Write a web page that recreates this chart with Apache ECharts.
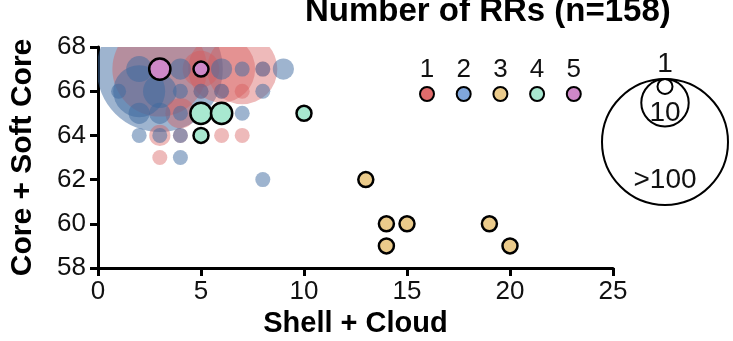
<!DOCTYPE html>
<html>
<head>
<meta charset="utf-8">
<script src="https://cdn.jsdelivr.net/npm/echarts@6/dist/echarts.min.js"></script>
<style>
  html, body { margin: 0; padding: 0; background: #fff; }
  #chart { width: 733px; height: 341px; }
</style>
</head>
<body>
<div id="chart"></div>
<script>
// Repeat-region counts per (Shell + Cloud, Core + Soft Core) cell: [x, y, count]
const clusterNames = ['1', '2', '3', '4', '5'];
const cluster1 = [[3,67,40],[6,67,20],[7,67,22],[5,67,6],[8,67,1],[5,66,1],[6,66,1],[7,66,1],[4,65,4],[3,64,2],[4,64,1],[6,64,1],[7,64,1],[3,63,1]];
const cluster2 = [[3,67,110],[2,66,12],[3,66,5],[2,67,3],[4,67,2],[6,67,2],[7,67,1],[8,67,1],[9,67,2],[1,66,1],[4,66,1],[5,66,1],[6,66,1],[8,66,1],[2,65,2],[3,65,2],[4,65,1],[7,65,1],[2,64,1],[3,64,1],[4,64,1],[4,63,1],[8,62,1]];
const cluster3 = [[13,62,1],[14,60,1],[15,60,1],[14,59,1],[19,60,1],[20,59,1]];
const cluster4 = [[5,65,2],[6,65,2],[5,64,1],[10,65,1]];
const cluster5 = [[3,67,2],[5,67,1]];
const sizeLegendValues = [1, 10, 100];
const sizeLegendLabels = ['1', '10', '>100'];
const xTicks = [0, 5, 10, 15, 20, 25];
const yTicks = [58, 60, 62, 64, 66, 68];

const SANS = '"Liberation Sans", Arial, Helvetica, sans-serif';
const solidColors = ['#E06C6C', '#7FA6DC', '#EBCB8B', '#A8E8D0', '#CE88C8'];
const plotFills = [
  'rgba(214, 90, 90, 0.42)',
  'rgba(62, 106, 160, 0.50)',
  '#EBCB8B', '#A8E8D0', '#CE88C8'
];
const outlined = [false, false, true, true, true];

// bubble radius in px from a count (area ~ count, capped for the largest cells)
function radius(c) {
  return Math.min(7.5 * Math.sqrt(c), 63);
}

function bubbleSeries(idx, points) {
  return {
    type: 'custom',
    name: clusterNames[idx],
    coordinateSystem: 'cartesian2d',
    clip: true,
    encode: { x: 0, y: 1 },
    data: points,
    // translucent clusters share one layer so large cells sit under small ones
    z: outlined[idx] ? 3 : 2,
    renderItem: function (params, api) {
      const p = api.coord([api.value(0), api.value(1)]);
      const c = api.value(2);
      return {
        type: 'circle',
        z2: 1000 - c,
        shape: { cx: p[0], cy: p[1], r: radius(c) },
        style: {
          fill: plotFills[idx],
          stroke: outlined[idx] ? '#000' : null,
          lineWidth: outlined[idx] ? 2.5 : 0
        }
      };
    }
  };
}

const chart = echarts.init(document.getElementById('chart'), null, { renderer: 'canvas' });

// colour legend: number above a dot
const legendGraphics = [];
clusterNames.forEach((n, i) => {
  const cx = 427 + i * 36.7;
  legendGraphics.push({
    type: 'text', x: cx, y: 70,
    style: { text: n, font: '26px ' + SANS, fill: '#111', align: 'center', verticalAlign: 'middle' }
  });
  legendGraphics.push({
    type: 'circle', shape: { cx: cx, cy: 94, r: 7 },
    style: { fill: solidColors[i], stroke: '#000', lineWidth: 2 }
  });
});

// size legend: nested circles touching at the top
const sizeTop = 79;
const sizeCx = 665;
sizeLegendValues.forEach((v) => {
  const r = radius(v);
  legendGraphics.push({
    type: 'circle', shape: { cx: sizeCx, cy: sizeTop + r, r: r },
    style: { fill: 'none', stroke: '#000', lineWidth: 2 }
  });
});
const sizeLabelY = [64, 113, 180];
sizeLegendLabels.forEach((t, i) => {
  legendGraphics.push({
    type: 'text', x: sizeCx, y: sizeLabelY[i],
    style: { text: t, font: '28px ' + SANS, fill: '#111', align: 'center', verticalAlign: 'middle' }
  });
});

chart.setOption({
  animation: false,
  backgroundColor: '#fff',
  title: {
    text: 'Number of RRs (n=158)',
    left: 300, top: -10,
    textStyle: { fontFamily: SANS, fontSize: 33, fontWeight: 'bold', color: '#000' }
  },
  grid: { left: 98, right: 120, top: 47, bottom: 73, outerBoundsMode: 'none' },
  xAxis: {
    type: 'value', min: xTicks[0], max: xTicks[xTicks.length - 1], interval: 5,
    name: 'Shell + Cloud', nameLocation: 'middle', nameGap: 36,
    nameTextStyle: { fontFamily: SANS, fontSize: 29, fontWeight: 'bold', color: '#000' },
    axisLine: { lineStyle: { color: '#000', width: 3 } },
    axisTick: { length: 8, lineStyle: { color: '#000', width: 3 } },
    axisLabel: { fontFamily: SANS, fontSize: 26, color: '#111', margin: 11 },
    splitLine: { show: false }
  },
  yAxis: {
    type: 'value', min: yTicks[0], max: yTicks[yTicks.length - 1], interval: 2,
    name: 'Core + Soft Core', nameLocation: 'middle', nameGap: 60,
    nameTextStyle: { fontFamily: SANS, fontSize: 30, fontWeight: 'bold', color: '#000' },
    axisLine: { lineStyle: { color: '#000', width: 3 } },
    axisTick: { length: 8, lineStyle: { color: '#000', width: 3 } },
    axisLabel: { fontFamily: SANS, fontSize: 26, color: '#111', margin: 12 },
    splitLine: { show: false }
  },
  graphic: legendGraphics,
  series: [
    bubbleSeries(0, cluster1),
    bubbleSeries(1, cluster2),
    bubbleSeries(2, cluster3),
    bubbleSeries(3, cluster4),
    bubbleSeries(4, cluster5)
  ]
});
</script>
</body>
</html>
